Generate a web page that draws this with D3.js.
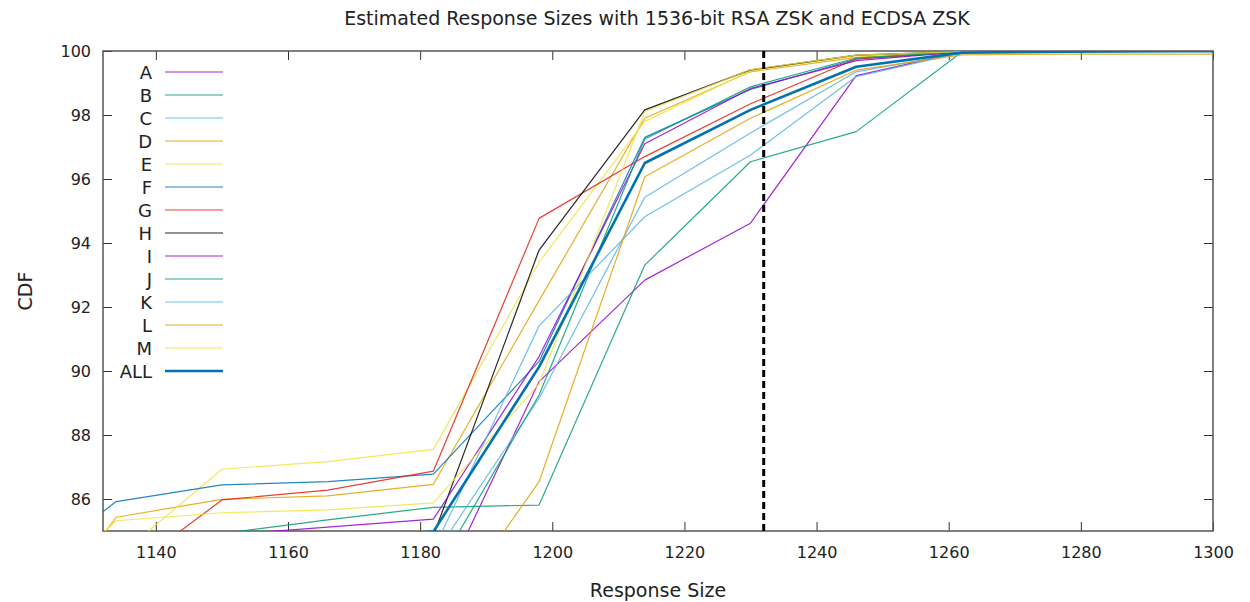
<!DOCTYPE html>
<html>
<head>
<meta charset="utf-8">
<script src="https://cdn.jsdelivr.net/npm/d3@7"></script>
<style>
  body { margin: 0; background: white; }
  text { font-family: "DejaVu Sans", sans-serif; fill: #222; }
</style>
</head>
<body>
<div id="chart"></div>
<script>

//Data
let sizes = [1118, 1134, 1150, 1166, 1182, 1198, 1214, 1230, 1246, 1262, 1278, 1294, 1310];
let names = ["A", "B", "C", "D", "E", "F", "G", "H", "I", "J", "K", "L", "M", "ALL"];

let cdfA = [76.5, 78.0, 79.2, 80.8, 82.7, 89.67, 92.84, 94.62, 99.23, 99.97, 100, 100, 100];
let cdfB = [84.0, 84.5, 84.92, 85.35, 85.74, 85.81, 93.31, 96.54, 97.48, 99.97, 100, 100, 100];
let cdfC = [78.0, 80.0, 81.5, 83.0, 84.2, 89.15, 95.43, 97.44, 99.35, 99.95, 100, 100, 100];
let cdfD = [81.0, 85.43, 85.99, 86.1, 86.46, 92.2, 97.9, 99.35, 99.8, 99.97, 100, 100, 100];
let cdfE = [81.5, 84.15, 86.93, 87.17, 87.55, 93.4, 97.8, 99.38, 99.85, 99.98, 100, 100, 100];
let cdfF = [83.4, 85.92, 86.44, 86.54, 86.78, 90.3, 97.3, 98.8, 99.75, 99.97, 100, 100, 100];
let cdfG = [81.0, 83.5, 85.97, 86.28, 86.87, 94.77, 96.7, 98.35, 99.75, 99.97, 100, 100, 100];
let cdfH = [76.0, 77.5, 78.8, 80.0, 84.85, 93.78, 98.16, 99.41, 99.87, 99.98, 100, 100, 100];
let cdfI = [84.3, 84.6, 84.87, 85.12, 85.37, 90.45, 97.1, 98.83, 99.7, 99.97, 100, 100, 100];
let cdfJ = [79.0, 80.5, 81.8, 82.8, 83.6, 89.25, 97.25, 98.88, 99.78, 99.97, 100, 100, 100];
let cdfK = [78.5, 80.5, 82.0, 83.3, 84.4, 91.41, 94.82, 96.75, 99.2, 99.95, 100, 100, 100];
let cdfL = [77.0, 78.2, 79.4, 80.5, 81.85, 86.54, 96.07, 97.9, 99.4, 99.88, 99.9, 99.9, 99.9];
let cdfM = [82.3, 85.32, 85.57, 85.66, 85.88, 89.6, 98.1, 99.42, 99.87, 99.98, 100, 100, 100];
let cdfALL = [82.0, 83.2, 84.1, 84.7, 84.98, 90.13, 96.5, 98.16, 99.51, 99.95, 99.98, 99.99, 100];

let series = [cdfA, cdfB, cdfC, cdfD, cdfE, cdfF, cdfG, cdfH, cdfI, cdfJ, cdfK, cdfL, cdfM, cdfALL];

let xTicks = [1140, 1160, 1180, 1200, 1220, 1240, 1260, 1280, 1300];
let yTicks = [86, 88, 90, 92, 94, 96, 98, 100];
let markerSize = 1232;

//Width and Height
let width = 1250;
let height = 602;
let margin = {top: 51, right: 37, bottom: 71, left: 103};

//Colors
let colors = ["#9400d3", "#009e73", "#56b4e9", "#e69f00", "#f0e442", "#0072b2", "#e51e10", "#000000",
              "#9400d3", "#009e73", "#56b4e9", "#e69f00", "#f0e442", "#0072b2"];

//Scales
let x = d3.scaleLinear().domain([1132, 1300]).range([margin.left, width - margin.right]);
let y = d3.scaleLinear().domain([85, 100]).range([height - margin.bottom, margin.top]);

let svg = d3.select("#chart")
  .append("svg")
  .attr("width", width)
  .attr("height", height);

svg.append("clipPath")
  .attr("id", "plotClip")
  .append("rect")
  .attr("x", margin.left)
  .attr("y", margin.top)
  .attr("width", width - margin.left - margin.right)
  .attr("height", height - margin.top - margin.bottom);

//Title
svg.append("text")
  .attr("x", 657)
  .attr("y", 25)
  .attr("text-anchor", "middle")
  .style("font-size", "19px")
  .text("Estimated Response Sizes with 1536-bit RSA ZSK and ECDSA ZSK");

//Axes (gnuplot style: ticks inward, mirrored)
let tickLen = 9;
svg.append("g")
  .attr("transform", "translate(0," + (height - margin.bottom) + ")")
  .call(d3.axisBottom(x).tickValues(xTicks).tickSize(-tickLen).tickPadding(16).tickFormat(d3.format("d")))
  .call(g => g.select(".domain").remove());
svg.append("g")
  .attr("transform", "translate(0," + margin.top + ")")
  .call(d3.axisTop(x).tickValues(xTicks).tickSize(-tickLen).tickFormat(""))
  .call(g => g.select(".domain").remove());
svg.append("g")
  .attr("transform", "translate(" + margin.left + ",0)")
  .call(d3.axisLeft(y).tickValues(yTicks).tickSize(-tickLen).tickPadding(12).tickFormat(d3.format("d")))
  .call(g => g.select(".domain").remove());
svg.append("g")
  .attr("transform", "translate(" + (width - margin.right) + ",0)")
  .call(d3.axisRight(y).tickValues(yTicks).tickSize(-tickLen).tickFormat(""))
  .call(g => g.select(".domain").remove());

svg.selectAll(".tick line").attr("stroke", "#333").attr("stroke-width", 1);
svg.selectAll(".tick text")
  .style("font-size", "16px")
  .style("font-family", "DejaVu Sans, sans-serif")
  .attr("fill", "#222");

//Border
svg.append("rect")
  .attr("x", margin.left)
  .attr("y", margin.top)
  .attr("width", width - margin.left - margin.right)
  .attr("height", height - margin.top - margin.bottom)
  .attr("fill", "none")
  .attr("stroke", "#555")
  .attr("stroke-width", 1.5);

//Axis labels
svg.append("text")
  .attr("x", 658)
  .attr("y", 597)
  .attr("text-anchor", "middle")
  .style("font-size", "19px")
  .text("Response Size");

svg.append("text")
  .attr("transform", "translate(32," + 291 + ") rotate(-90)")
  .attr("text-anchor", "middle")
  .style("font-size", "19px")
  .text("CDF");

//Lines
let line = d3.line()
  .x((d, i) => x(sizes[i]))
  .y(d => y(d));

svg.append("g")
  .attr("clip-path", "url(#plotClip)")
  .selectAll("path")
  .data(series)
  .enter()
  .append("path")
  .attr("d", line)
  .attr("fill", "none")
  .attr("stroke", (d, i) => colors[i])
  .attr("stroke-opacity", (d, i) => i == 13 ? 1 : 0.85)
  .attr("stroke-width", (d, i) => i == 13 ? 2.6 : 1.2)
  .attr("stroke-linejoin", "round");

//Dashed marker line
svg.append("line")
  .attr("x1", x(markerSize))
  .attr("x2", x(markerSize))
  .attr("y1", y(100))
  .attr("y2", y(85))
  .attr("stroke", "black")
  .attr("stroke-width", 3)
  .attr("stroke-dasharray", "7,4");

//Legend
let legend = svg.append("g")
  .selectAll("g")
  .data(names)
  .enter()
  .append("g")
  .attr("transform", (d, i) => "translate(0," + (72 + i * 23) + ")");

legend.append("text")
  .attr("x", 152)
  .attr("y", 6.5)
  .attr("text-anchor", "end")
  .style("font-size", "18px")
  .text(d => d);

legend.append("line")
  .attr("x1", 165)
  .attr("x2", 223)
  .attr("stroke", (d, i) => colors[i])
  .attr("stroke-opacity", (d, i) => i == 13 ? 1 : 0.85)
  .attr("stroke-width", (d, i) => i == 13 ? 2.6 : 1.2);

</script>
</body>
</html>
